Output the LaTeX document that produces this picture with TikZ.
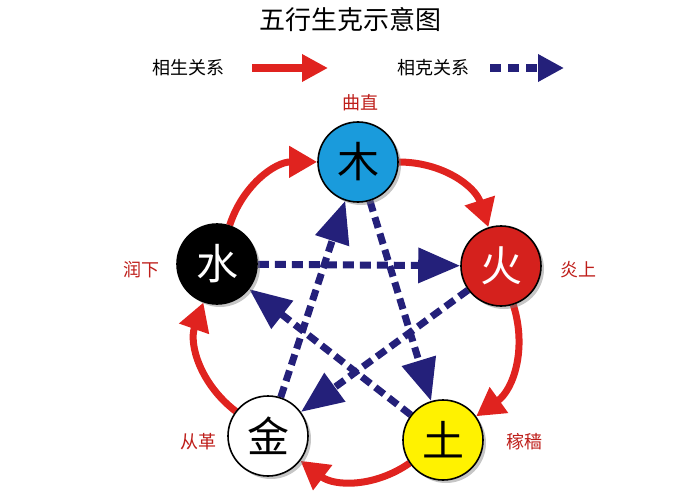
\documentclass[tikz,border=0pt]{standalone}
\usepackage{fontspec}
\setmainfont{Noto Sans CJK SC}
\usetikzlibrary{arrows.meta,shadows,backgrounds}
\definecolor{sred}{HTML}{E0231F}
\definecolor{snavy}{HTML}{24207A}
\definecolor{sblue}{HTML}{1A9BDC}
\definecolor{syel}{HTML}{FFF200}
\tikzset{
 elem/.style={circle,draw=black,line width=1.6pt,minimum size=80pt,inner sep=0pt,font=\fontsize{42}{42}\selectfont,drop shadow={shadow xshift=3pt,shadow yshift=-3pt,opacity=0.45}},
 lbl/.style={text=sred!85!black,font=\fontsize{18}{18}\selectfont},
 sheng/.style={draw=sred,line width=7pt,-{Triangle[length=28pt,width=30pt]}},
 ke/.style={draw=snavy,line width=7pt,dash pattern=on 11pt off 6pt,-{Triangle[length=42pt,width=34pt]}},
}
\begin{document}
\begin{tikzpicture}[x=1pt,y=1pt]
\useasboundingbox (0,0) rectangle (699,-500);
\node (title) at (350,-20) {\fontsize{26}{26}\selectfont 五行生克示意图};
\node (l1) at (188,-68) {\fontsize{18}{18}\selectfont 相生关系};
\coordinate (l1a) at (252,-68); \coordinate (l1b) at (328,-68);
\node (l2) at (433,-68) {\fontsize{18}{18}\selectfont 相克关系};
\coordinate (l2a) at (490,-68); \coordinate (l2b) at (564,-68);
\draw[draw=sred,line width=8pt,-{Triangle[length=26pt,width=26pt]}] (l1a) -- (l1b);
\draw[draw=snavy,line width=8pt,dash pattern=on 11pt off 7pt,-{Triangle[length=26pt,width=26pt]}] (l2a) -- (l2b);

\node[elem,fill=sblue] (mu) at (358,-162) {木};
\node[elem,fill=sred!95!black,text=white] (huo) at (501,-266) {火};
\node[elem,fill=syel] (tu) at (443,-440) {土};
\node[elem,fill=white] (jin) at (268,-436) {金};
\node[elem,fill=black,text=white] (shui) at (217,-264) {水};

\node[lbl] (a) at (360,-103) {曲直};
\node[lbl] (b) at (578,-270) {炎上};
\node[lbl] (c) at (524,-442) {稼穑};
\node[lbl] (d) at (198,-442) {从革};
\node[lbl] (e) at (141,-270) {润下};

\begin{scope}[on background layer]
\draw[ke] (mu) -- (tu);
\draw[ke] (tu) -- (shui);
\draw[ke] (shui) -- (huo);
\draw[ke] (huo) -- (jin);
\draw[ke] (jin) -- (mu);
\draw[sheng] (mu) to[bend left=36] (huo);
\draw[sheng] (huo) to[bend left=36] (tu);
\draw[sheng] (tu) to[bend left=36] (jin);
\draw[sheng] (jin) to[bend left=36] (shui);
\draw[sheng] (shui) to[bend left=36] (mu);
\end{scope}
\end{tikzpicture}
\end{document}
